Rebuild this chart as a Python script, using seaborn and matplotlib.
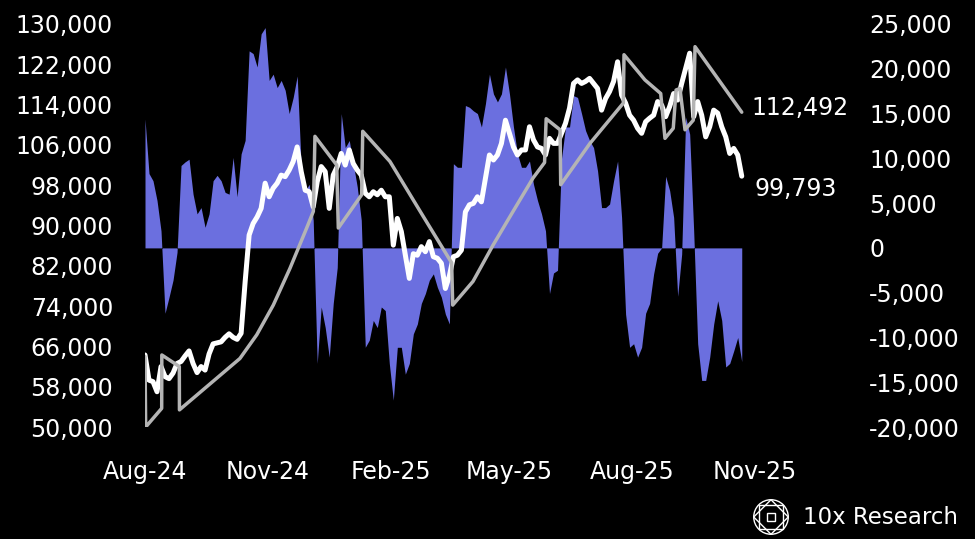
import pandas as pd
import matplotlib
matplotlib.use("Agg")
import matplotlib.pyplot as plt
from matplotlib.ticker import FuncFormatter
from matplotlib.patches import Circle, Polygon, Rectangle
import seaborn as sns

# data, one value every 3 days from start
start = "2024-08-01"
price = [64300, 59300, 59000, 57000, 62000, 60000, 59600, 60700, 62600, 63000,
         64100, 65100, 62600, 60800, 62000, 61300, 64500, 66500, 66700, 66900,
         67800, 68500, 67800, 67400, 68600, 78800, 88100, 90400, 91700, 93400,
         98400, 95700, 97400, 98400, 100000, 99700, 101000, 102700, 105600, 100700,
         97000, 96700, 93700, 98700, 101700, 100700, 93400, 100000, 101700, 104300,
         102000, 105000, 102300, 101000, 100000, 96400, 95700, 96700, 96100, 97000,
         95700, 95700, 86100, 91400, 88800, 84100, 79500, 84400, 84100, 85800,
         84800, 86800, 83800, 83500, 82500, 77500, 80000, 83800, 84100, 85100,
         92700, 94100, 94400, 95700, 94700, 99400, 104000, 103000, 104000, 106300,
         110900, 108300, 105600, 104000, 105000, 105000, 109600, 107000, 105600, 105300,
         104000, 107300, 106300, 106300, 108300, 110300, 113300, 118200, 118900, 118200,
         118600, 119200, 118200, 117200, 112900, 115200, 116600, 118600, 122500, 115900,
         114300, 111900, 110900, 109300, 108300, 110600, 111300, 111900, 114600, 113900,
         111600, 113600, 116200, 114900, 118200, 121200, 124200, 111600, 114600, 111900,
         107600, 109600, 112900, 112300, 109600, 107600, 104300, 105300, 104000, 99793]

spread = [14400, 8300, 7500, 5300, 1900, -7300, -5500, -3600, -500, 9200,
          9600, 9900, 6000, 3800, 4500, 2300, 3800, 7500, 8100, 7500,
          6200, 6000, 10100, 5700, 10500, 12000, 22000, 21700, 20200, 23900,
          24600, 18700, 19400, 17900, 18700, 17600, 15000, 16800, 19200, 9000,
          6400, 7100, 3100, -12900, -6600, -8900, -12200, -6200, -2200, 15000,
          11200, 12000, 9400, 6800, 3100, -11100, -10300, -8100, -8900, -6600,
          -7000, -12900, -17000, -11100, -11100, -14100, -12900, -9600, -8500, -6200,
          -5100, -3600, -2900, -4400, -5500, -7400, -8500, 9400, 9000, 9000,
          15900, 15700, 15300, 15000, 13500, 16100, 19400, 17200, 16300, 17200,
          20200, 17200, 13500, 10500, 9000, 9000, 9700, 7100, 5300, 3800,
          1900, -5100, -2800, -2500, 10000, 13500, 13500, 17000, 16800, 15000,
          13100, 12000, 11200, 8600, 4500, 4500, 4900, 7500, 9700, 3400,
          -7400, -11100, -10700, -12200, -11100, -7300, -6200, -2900, -600, 0,
          8000, 6400, 3400, -5400, -700, 14600, 12700, 1900, -10700, -14800,
          -14800, -12200, -8500, -5900, -8100, -13300, -12900, -11500, -10000, -12700]

# trend line vertices (days from start, value)
trend_day = [0, 0.5, 12.5, 12.6, 25.7, 25.8, 71.1, 83.7, 96.1, 108.6, 121.1, 126.1,
             127.3, 143.6, 144.8, 162.3, 163.1, 183.5, 208.2, 229.7, 230.5, 245.7,
             260.7, 275.7, 290.6, 299.3, 300.5, 310.9, 311.4, 333.3, 358.3, 358.8,
             374.5, 386.3, 389.5, 395.7, 397.8, 400.7, 404.5, 410.7, 412.0, 447.0]
trend = [64000, 50000, 53700, 64300, 62000, 53400, 63600, 68300, 74200, 81500, 89500, 92800,
         107700, 102000, 89500, 96100, 108700, 102700, 91900, 82600, 74200, 78900,
         86100, 92800, 99400, 102500, 111200, 109000, 98100, 106300, 114300, 123900,
         118900, 116200, 107300, 109300, 116900, 117200, 109000, 110900, 125500, 112492]

x_ticks = ["2024-08-01", "2024-11-01", "2025-02-01", "2025-05-01", "2025-08-01", "2025-11-01"]

t0 = pd.Timestamp(start)
df = pd.DataFrame({"date": pd.date_range(start, periods=len(price), freq="3D"),
                   "price": price, "spread": spread})
tr = pd.DataFrame({"date": t0 + pd.to_timedelta(trend_day, unit="D"), "trend": trend})

sns.set_theme(style="dark", rc={"axes.facecolor": "black", "figure.facecolor": "black"})
plt.rcParams["font.family"] = ["DejaVu Sans"]

fig = plt.figure(figsize=(9.75, 5.39), dpi=100)
ax = fig.add_axes([145 / 975, 1 - 427 / 539, (840 - 145) / 975, 403 / 539])
ax2 = ax.twinx()

# purple spread area on the right scale
ax.fill_between(df["date"], 0, df["spread"], color="#6B6FDF", linewidth=0)
ax.set_ylim(-20000, 25000)
ax.set_yticks(range(-20000, 25001, 5000))

sns.lineplot(data=df, x="date", y="price", ax=ax2, color="white", linewidth=3.6,
             estimator=None, sort=False)
sns.lineplot(data=tr, x="date", y="trend", ax=ax2, color="#B4B4B4", linewidth=2.5,
             estimator=None, sort=False)
ax2.set_ylim(50000, 130000)
ax2.set_yticks(range(50000, 130001, 8000))

ax.set_xlim(t0, t0 + pd.Timedelta(days=520.6))
ax.set_xticks(pd.to_datetime(x_ticks))
ax.set_xticklabels([pd.Timestamp(d).strftime("%b-%y") for d in x_ticks])

fmt = FuncFormatter(lambda v, p: f"{v:,.0f}")
ax.yaxis.set_major_formatter(fmt)
ax2.yaxis.set_major_formatter(fmt)
ax.yaxis.tick_right()
ax2.yaxis.tick_left()

for a in (ax, ax2):
    a.grid(False)
    a.set_xlabel("")
    a.set_ylabel("")
    for s in a.spines.values():
        s.set_visible(False)
    a.set_facecolor("none")
ax.set_facecolor("black")
ax.tick_params(axis="x", length=0, colors="white", labelsize=17, pad=24)
ax.tick_params(axis="y", length=0, colors="white", labelsize=17, pad=21)
ax2.tick_params(axis="y", length=0, colors="white", labelsize=17, pad=23)
for lab in ax.get_yticklabels():
    lab.set_horizontalalignment("left")

# end labels
ax2.annotate(f"{trend[-1]:,.0f}", (tr["date"].iloc[-1], trend[-1]), xytext=(7, 3),
             textcoords="offset points", color="white", fontsize=17, va="center")
ax2.annotate(f"{price[-1]:,.0f}", (df["date"].iloc[-1], price[-1]), xytext=(9, -9),
             textcoords="offset points", color="white", fontsize=17, va="center")

# logo
lax = fig.add_axes([752 / 975, 3 / 539, 38 / 975, 38 / 539])
lax.set_xlim(-1.1, 1.1)
lax.set_ylim(-1.1, 1.1)
lax.set_aspect("equal")
lax.axis("off")
kw = dict(fill=False, edgecolor="white", linewidth=1.0)
lax.add_patch(Circle((0, 0), 1, **kw))
lax.add_patch(Polygon([(1, 0), (0, 1), (-1, 0), (0, -1)], closed=True, **kw))
lax.add_patch(Polygon([(0.7, 0.7), (-0.7, 0.7), (-0.7, -0.7), (0.7, -0.7)], closed=True, **kw))
lax.add_patch(Rectangle((-0.22, -0.22), 0.44, 0.44, **kw))
fig.text(803 / 975, 1 - 517 / 539, "10x Research", color="white", fontsize=16.5, va="center")

fig.savefig("out.png", dpi=100, facecolor="black")
